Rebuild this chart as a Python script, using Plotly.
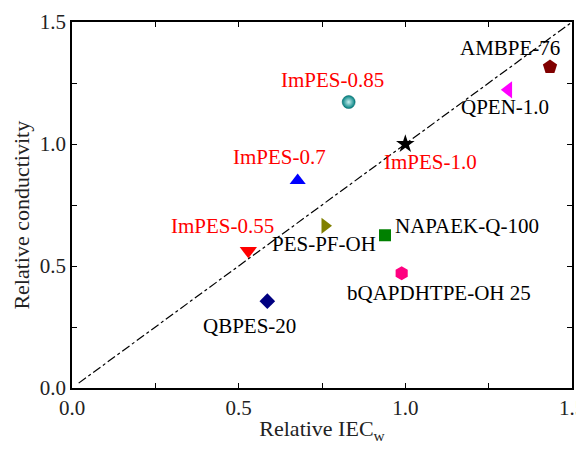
import plotly.graph_objects as go

names = ["ImPES-1.0", "ImPES-0.85", "ImPES-0.7", "ImPES-0.55", "PES-PF-OH",
         "NAPAEK-Q-100", "bQAPDHTPE-OH 25", "QBPES-20", "QPEN-1.0", "AMBPE-76"]
rel_iec = [1.0, 0.83, 0.677, 0.529, 0.759, 0.939, 0.989, 0.586, 1.309, 1.434]
rel_cond = [1.0, 1.172, 0.85, 0.562, 0.665, 0.626, 0.47, 0.356, 1.222, 1.316]
symbols = ["star", "circle", "triangle-up", "triangle-down", "triangle-right",
           "square", "hexagon", "diamond", "triangle-left", "pentagon"]
colors = ["#000000", "#008080", "#0000FF", "#FF0000", "#808000",
          "#008000", "#FF0080", "#000080", "#FF00FF", "#800000"]
sizes = [14, 13, 14, 15, 14, 12, 14, 12, 15, 15]
label_x = [1.076, 0.782, 0.622, 0.451, 0.756, 1.186, 1.101, 0.532, 1.299, 1.314]
label_y = [0.925, 1.263, 0.946, 0.662, 0.589, 0.662, 0.388, 0.254, 1.152, 1.395]
label_colors = ["#FF0000", "#FF0000", "#FF0000", "#FF0000", "#000000",
                "#000000", "#000000", "#000000", "#000000", "#000000"]
tick_vals = [0, 0.25, 0.5, 0.75, 1.0, 1.25, 1.5]
tick_text = ["0.0", "", "0.5", "", "1.0", "", "1.5"]
line_x = [0.02, 1.5]
line_y = [0.02, 1.5]

font = "Liberation Serif"
fig = go.Figure()
fig.add_trace(go.Scatter(x=line_x, y=line_y, mode="lines",
                         line=dict(color="black", width=1.2, dash="dashdot"),
                         showlegend=False, hoverinfo="skip", cliponaxis=False))
for i in range(len(names)):
    marker = dict(symbol=symbols[i], color=colors[i], size=sizes[i], line=dict(width=0))
    if symbols[i] == "circle":
        marker["gradient"] = dict(type="radial", color="#c8f0f0")
        marker["line"] = dict(width=0.5, color="#006060")
    fig.add_trace(go.Scatter(x=[rel_iec[i]], y=[rel_cond[i]], mode="markers",
                             marker=marker, showlegend=False))
    fig.add_annotation(x=label_x[i], y=label_y[i], text=names[i], showarrow=False,
                       font=dict(family=font, size=21, color=label_colors[i]),
                       xanchor="center", yanchor="middle")

fig.add_annotation(xref="paper", yref="paper", x=-0.1, y=0.471,
                   text="Relative conductivity", textangle=-90, showarrow=False,
                   xanchor="center", yanchor="middle",
                   font=dict(family=font, size=22, color="#222"))

axis_common = dict(range=[0, 1.5], showgrid=False, zeroline=False, showline=True,
                   linecolor="black", linewidth=1.5, mirror="ticks", ticks="inside",
                   ticklen=5, tickwidth=1, tickcolor="black",
                   tickfont=dict(family=font, size=21, color="#222"),
                   tickvals=tick_vals, ticktext=tick_text, ticklabeloverflow="allow")
xa = dict(axis_common)
xa.update(title=dict(text="Relative IEC<sub>w</sub>",
                     font=dict(family=font, size=22, color="#222"), standoff=2))
ya = dict(axis_common)
fig.update_layout(width=576, height=441, plot_bgcolor="white", paper_bgcolor="white",
                  margin=dict(l=64, r=12, t=14, b=61, autoexpand=False),
                  xaxis=xa, yaxis=ya)
fig.write_html("out.html")
